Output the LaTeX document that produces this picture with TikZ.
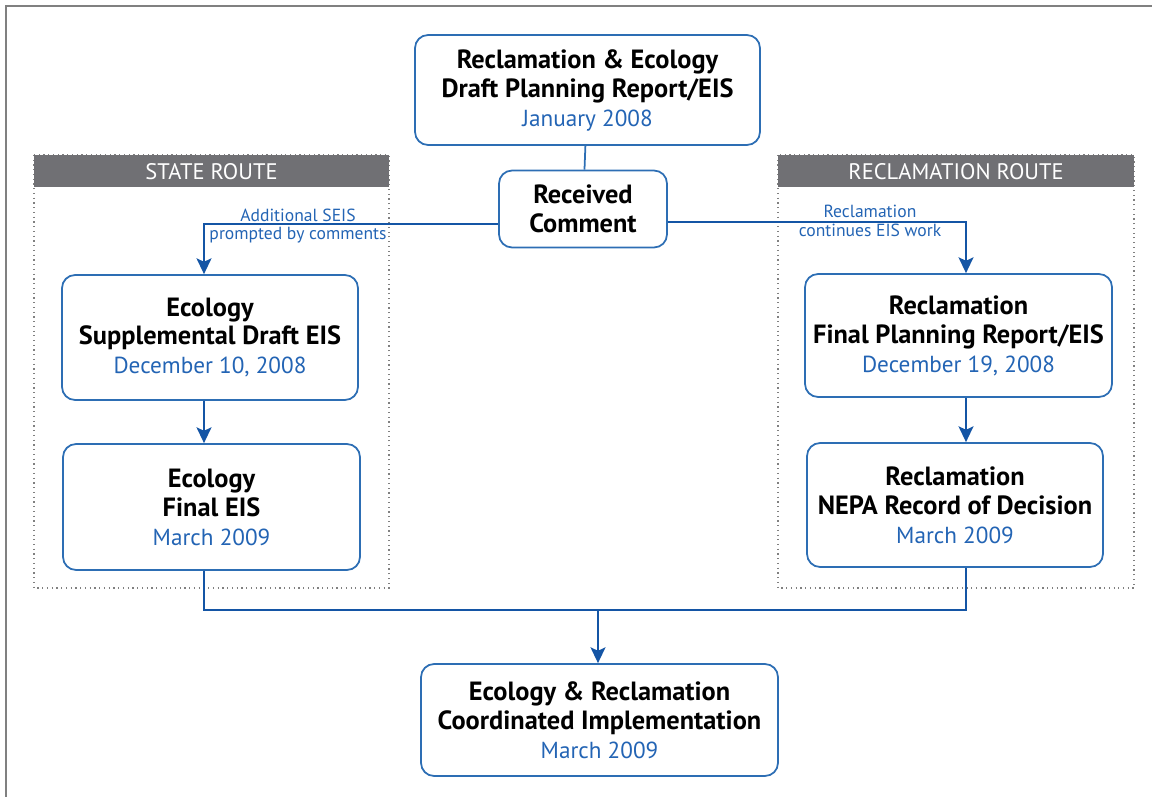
\documentclass[tikz,border=0pt]{standalone}
\usepackage{fontspec}
\setmainfont{PT Sans}
\usetikzlibrary{positioning,arrows.meta}

\definecolor{boxblue}{RGB}{45,110,180}
\definecolor{lineblue}{RGB}{20,85,165}
\definecolor{dateblue}{RGB}{35,100,180}
\definecolor{hdrgray}{RGB}{112,112,116}

\newcommand{\when}[1]{\\{\mdseries\fontsize{13.2}{16.5}\selectfont\color{dateblue}#1}}

\begin{document}
\begin{tikzpicture}[x=0.02cm,y=-0.02cm,
  stage/.style={draw=boxblue,line width=1pt,rounded corners=0.26cm,align=center,
    inner sep=0pt,font=\fontsize{15}{16.5}\selectfont\bfseries},
  link/.style={draw=lineblue,line width=1.3pt},
  arr/.style={link,-{Stealth[length=9pt,width=8.5pt,inset=2pt]}},
  note/.style={text=dateblue,align=center,font=\fontsize{10}{10.5}\selectfont},
  route/.style={draw=gray,dotted,line width=0.7pt},
  hdr/.style={text=white,font=\fontsize{12.8}{14}\selectfont}]
  \useasboundingbox (0,0) rectangle (1152,797);

  % Page frame
  \draw[gray,line width=1.2pt] (6,797) -- (6,6) -- (1152,6);

  % Route panels
  \draw[route] (34,155) rectangle (389,588);
  \draw[route] (778,155) rectangle (1134,588);
  \fill[hdrgray] (34,155) rectangle (389,187);
  \fill[hdrgray] (778,155) rectangle (1134,187);
  \node[hdr] (statehdr) at (211.5,172) {STATE ROUTE};
  \node[hdr] (reclhdr) at (956,172) {RECLAMATION ROUTE};

  % Stages
  \node[stage,minimum width=6.9cm,minimum height=2.2cm] (draft) at (587.5,90)
    {Reclamation \& Ecology\\Draft Planning Report/EIS\when{January 2008}};
  \node[stage,minimum width=3.36cm,minimum height=1.54cm] (recv) at (583,209)
    {Received\\Comment};
  \node[stage,minimum width=5.92cm,minimum height=2.5cm] (supp) at (210,337.5)
    {Ecology\\Supplemental Draft EIS\when{December 10, 2008}};
  \node[stage,minimum width=5.94cm,minimum height=2.52cm] (feis) at (211.5,507)
    {Ecology\\Final EIS\when{March 2009}};
  \node[stage,minimum width=6.14cm,minimum height=2.46cm] (rfinal) at (958.5,335.5)
    {Reclamation\\Final Planning Report/EIS\when{December 19, 2008}};
  \node[stage,minimum width=5.92cm,minimum height=2.48cm] (rod) at (955,505)
    {Reclamation\\NEPA Record of Decision\when{March 2009}};
  \node[stage,minimum width=7.14cm,minimum height=2.24cm] (impl) at (599.5,720)
    {Ecology \& Reclamation\\Coordinated Implementation\when{March 2009}};

  % Connectors
  \coordinate (lcol) at (204,0);
  \coordinate (rcol) at (966,0);
  \coordinate (join) at (598,610);
  \draw[draw=boxblue,line width=1pt] (draft) -- (recv);
  \draw[arr] (recv.west |- 0,224) -| (supp.north -| lcol);
  \draw[arr] (recv.east |- 0,222) -| (rfinal.north -| rcol);
  \draw[arr] (supp.south -| lcol) -- (feis.north -| lcol);
  \draw[arr] (rfinal.south -| rcol) -- (rod.north -| rcol);
  \draw[link] (feis.south -| lcol) |- (join) -| (rod.south -| rcol);
  \draw[arr] (join) -- (impl.north -| join);

  % Labels
  \node[note] (seis) at (298,226) {Additional SEIS\\prompted by comments};
  \node[note] (cont) at (870,221) {Reclamation\\continues EIS work};
\end{tikzpicture}
\end{document}
